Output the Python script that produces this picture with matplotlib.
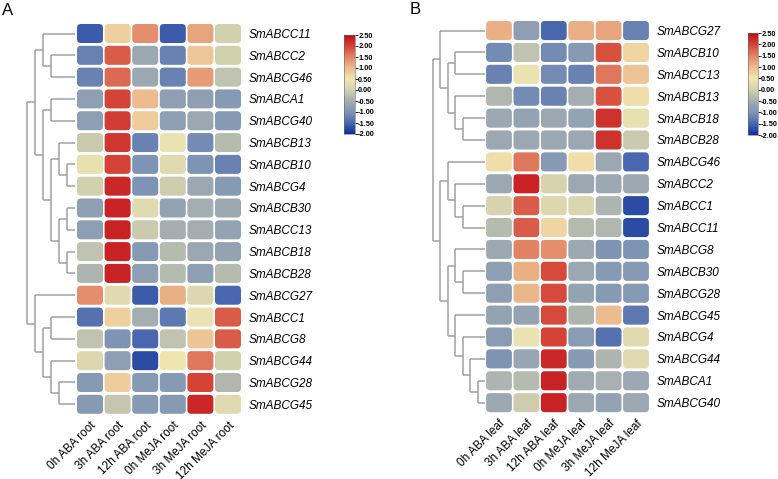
import numpy as np
import matplotlib
matplotlib.use("Agg")
import matplotlib.pyplot as plt
from matplotlib.colors import LinearSegmentedColormap, Normalize
from matplotlib.patches import FancyBboxPatch
from matplotlib.ticker import FormatStrFormatter

plt.rcParams["font.family"] = ["Liberation Sans", "DejaVu Sans"]

# ---- data ----
cols_a = ["0h ABA root", "3h ABA root", "12h ABA root", "0h MeJA root", "3h MeJA root", "12h MeJA root"]
cols_b = ["0h ABA leaf", "3h ABA leaf", "12h ABA leaf", "0h MeJA leaf", "3h MeJA leaf", "12h MeJA leaf"]

genes_a = ["SmABCC11", "SmABCC2", "SmABCG46", "SmABCA1", "SmABCG40", "SmABCB13",
           "SmABCB10", "SmABCG4", "SmABCB30", "SmABCC13", "SmABCB18", "SmABCB28",
           "SmABCG27", "SmABCC1", "SmABCG8", "SmABCG44", "SmABCG28", "SmABCG45"]
vals_a = [
    [-1.6, 0.75, 1.4, -1.6, 1.2, 0.0],
    [-1.2, 1.8, -0.6, -1.2, 0.85, 0.0],
    [-1.2, 1.7, -0.6, -1.2, 1.3, -0.2],
    [-0.8, 2.0, 1.0, -0.8, -0.8, -0.9],
    [-0.8, 2.05, 0.8, -0.8, -0.6, -0.9],
    [-0.1, 2.1, -1.2, 0.4, -1.1, -0.3],
    [0.35, 2.0, -1.0, 0.2, -1.0, -1.2],
    [0.0, 2.25, -1.0, -0.05, -0.6, -0.9],
    [-0.8, 2.3, 0.2, -0.7, -0.5, -0.6],
    [-0.8, 2.3, -0.1, -0.5, -0.5, -0.7],
    [-0.2, 2.3, -0.9, -0.3, -0.6, -0.7],
    [-0.4, 2.3, -0.8, -0.3, -0.8, -0.3],
    [1.4, 0.2, -1.6, 1.1, 0.15, -1.5],
    [-1.4, 0.75, -0.5, -1.3, 0.4, 1.8],
    [-0.2, -1.0, -1.5, -0.2, 0.9, 1.8],
    [0.15, -0.8, -1.75, 0.5, 1.6, 0.0],
    [-0.9, 0.8, -0.9, -0.9, 2.0, -0.35],
    [-0.9, -0.15, -0.9, -0.9, 2.25, 0.2],
]

genes_b = ["SmABCG27", "SmABCB10", "SmABCC13", "SmABCB13", "SmABCB18", "SmABCB28",
           "SmABCG46", "SmABCC2", "SmABCC1", "SmABCC11", "SmABCG8", "SmABCB30",
           "SmABCG28", "SmABCG45", "SmABCG4", "SmABCG44", "SmABCA1", "SmABCG40"]
vals_b = [
    [1.1, -0.8, -1.5, 1.1, 1.2, -1.2],
    [-1.1, -0.2, -1.1, -0.9, 1.9, 0.7],
    [-1.2, 0.4, -1.1, -1.2, 1.6, 0.9],
    [-0.35, -1.1, -1.2, -0.5, 1.9, 0.6],
    [-0.6, -0.7, -0.6, -0.7, 2.15, 0.35],
    [-0.6, -0.6, -0.6, -0.6, 2.15, -0.1],
    [0.6, 1.6, -0.9, 0.6, -0.6, -1.5],
    [-0.6, 2.3, 0.05, -0.6, -0.6, -0.6],
    [0.05, 1.8, 0.15, 0.1, -0.4, -1.75],
    [-0.3, 1.8, 0.7, -0.3, -0.35, -1.75],
    [-0.6, 1.5, 1.4, -0.6, -1.0, -1.0],
    [-0.8, 1.1, 1.95, -0.6, -0.9, -0.9],
    [-0.8, 1.05, 1.95, -0.7, -0.9, -0.9],
    [-0.7, -0.7, 1.95, -0.4, 1.0, -1.3],
    [-0.85, 0.4, 2.0, -0.85, -1.4, 0.2],
    [-1.0, -0.65, 2.25, -0.9, -0.4, 0.2],
    [-0.4, -0.3, 2.3, -0.55, -0.45, -0.6],
    [-0.6, -0.05, 2.3, -0.6, -0.7, -0.6],
]

# row dendrograms: (merge level, left, right), leaves are row indices
tree_a = (6,
          (5, (4, 0, (3, 1, 2)),
              (4, (3, 3, 4), (3, (2, 5, (1, 6, 7)), (2, (1, 8, 9), (1, 10, 11))))),
          (5, 12, (4, (3, 13, 14), (3, 15, (2, 16, 17)))))
tree_b = (7,
          (6, 0, (5, (4, 1, 2), (4, 3, (3, 4, 5)))),
          (6, (5, 6, (4, 7, (3, 8, 9))),
              (5, (4, 10, (3, 11, 12)), (4, 13, (3, 14, (2, 15, (1, 16, 17)))))))

cb_ticks = [2.5, 2.0, 1.5, 1.0, 0.5, 0.0, -0.5, -1.0, -1.5, -2.0]

# ---- style ----
cmap = LinearSegmentedColormap.from_list("tb", [
    (0.0, "#0c2e9c"), (0.5 / 4.5, "#4a68ae"), (1.0 / 4.5, "#7f95b5"),
    (1.5 / 4.5, "#a4adb0"), (2.0 / 4.5, "#d3d1ae"), (2.5 / 4.5, "#f0e6b0"),
    (3.0 / 4.5, "#ecbb8e"), (3.5 / 4.5, "#e28465"), (4.0 / 4.5, "#d44436"),
    (1.0, "#c00c1a")])
norm = Normalize(-2.0, 2.5)
W, H = 778, 479
fig = plt.figure(figsize=(W / 100, H / 100), dpi=100)


def add_ax(left, top, width, height):
    return fig.add_axes([left / W, 1 - (top + height) / H, width / W, height / H])


def heatmap(ax, vals, genes, cols, px_w, px_h):
    vals = np.array(vals)
    nr, nc = vals.shape
    gx, gy = 0.8 / px_w, 1.4 / px_h
    r = 4.0 / px_w
    asp = (4.0 / px_h) / r
    for i in range(nr):
        for j in range(nc):
            ax.add_patch(FancyBboxPatch((j + gx, i + gy), 1 - 2 * gx, 1 - 2 * gy,
                                        boxstyle=f"round,pad=0,rounding_size={r}",
                                        mutation_aspect=asp, facecolor=cmap(norm(vals[i, j])),
                                        edgecolor="none"))
    ax.set_xlim(0, nc)
    ax.set_ylim(nr, 0)
    ax.yaxis.tick_right()
    ax.set_yticks(np.arange(nr) + 0.5)
    ax.set_yticklabels(genes, fontsize=8.5, style="italic")
    ax.set_xticks(np.arange(nc) + 0.5)
    ax.set_xticklabels(cols, fontsize=8.5, rotation=45, ha="right", va="top",
                       rotation_mode="anchor")
    ax.tick_params(length=0, pad=5)
    ax.tick_params(axis="x", pad=3)
    for s in ax.spines.values():
        s.set_visible(False)


def dendro(ax, tree, nr, top_level):
    def walk(node):
        if isinstance(node, int):
            return node + 0.5, 0
        h, a, b = node
        ya, ha = walk(a)
        yb, hb = walk(b)
        kw = dict(color="#a0a0a0", lw=1.1, solid_capstyle="butt", clip_on=False)
        ax.plot([ha, h], [ya, ya], **kw)
        ax.plot([hb, h], [yb, yb], **kw)
        ax.plot([h, h], [ya, yb], **kw)
        return (ya + yb) / 2, h
    walk(tree)
    ax.set_xlim(top_level, 0)
    ax.set_ylim(nr, 0)
    ax.axis("off")


def colorbar(ax):
    cb = fig.colorbar(plt.cm.ScalarMappable(norm=norm, cmap=cmap), cax=ax, ticks=cb_ticks)
    cb.ax.yaxis.set_major_formatter(FormatStrFormatter("%.2f"))
    cb.ax.tick_params(labelsize=5.3, length=2, width=0.6, pad=0.3)
    for t in cb.ax.get_yticklabels():
        t.set_fontweight("bold")
    cb.outline.set_linewidth(0.4)
    cb.outline.set_edgecolor("#666666")


# panel A
ha_ax = add_ax(76.2, 22.6, 165.6, 392.6)
heatmap(ha_ax, vals_a, genes_a, cols_a, 27.6, 21.8)
dendro(add_ax(27, 22.6, 48, 392.6), tree_a, 18, 6)
colorbar(add_ax(344, 35, 11, 99))

# panel B
hb_ax = add_ax(485.3, 19.6, 164.4, 394)
heatmap(hb_ax, vals_b, genes_b, cols_b, 27.4, 21.9)
dendro(add_ax(433, 19.6, 52, 394), tree_b, 18, 7)
colorbar(add_ax(748, 33, 10, 102))

fig.text(2 / W, 1 - 3 / H, "A", fontsize=12, va="top", ha="left")
fig.text(410 / W, 1 - 2 / H, "B", fontsize=12, va="top", ha="left")

fig.savefig("out.png", dpi=100)
